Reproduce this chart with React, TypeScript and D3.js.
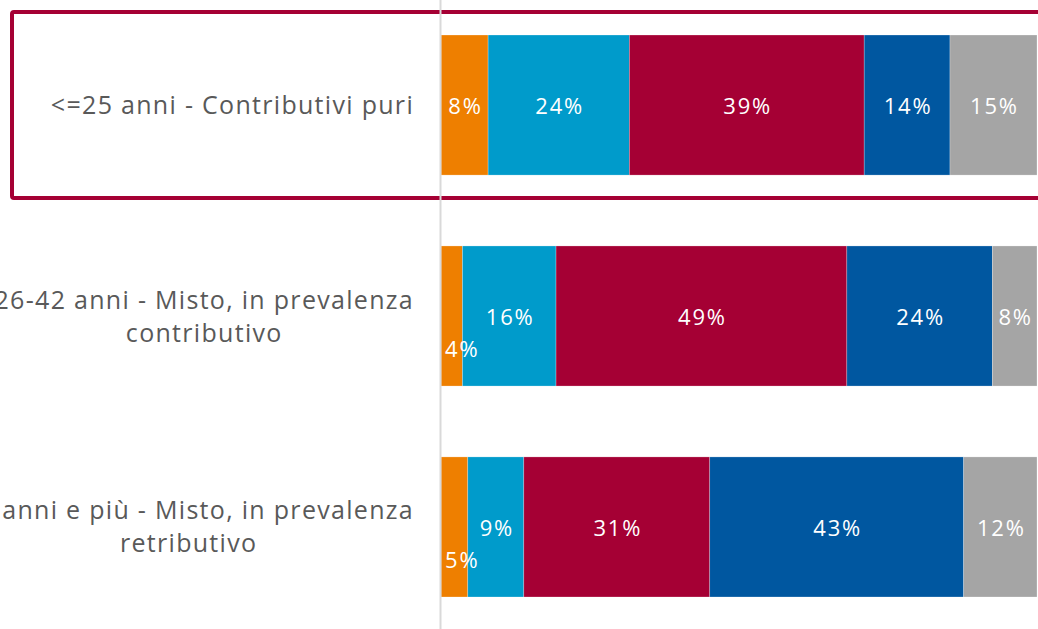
import React, { useEffect, useRef } from 'react';
import * as d3 from 'd3';

const categories = [
  '<=25 anni - Contributivi puri',
  '26-42 anni - Misto, in prevalenza contributivo',
  '43 anni e più - Misto, in prevalenza retributivo',
];
const labelLines = [
  ['<=25 anni - Contributivi puri'],
  ['26-42 anni - Misto, in prevalenza', 'contributivo'],
  ['43 anni e più - Misto, in prevalenza', 'retributivo'],
];
const seriesNames = ['s1', 's2', 's3', 's4', 's5'];
const seriesColors = ['#EE7F00', '#009BCB', '#A50034', '#0057A0', '#A5A5A5'];
const s1 = [7.9, 3.6, 4.5];
const s2 = [23.7, 15.7, 9.4];
const s3 = [39.4, 48.8, 31.2];
const s4 = [14.4, 24.4, 42.6];
const s5 = [14.6, 7.5, 12.3];
const seriesValues = [s1, s2, s3, s4, s5];

const W = 1038;
const H = 629;
const FONT = '"Open Sans", Lato, sans-serif';

const App = () => {
  const ref = useRef(null);

  useEffect(() => {
    document.body.style.margin = '0';
    const svg = d3.select(ref.current);
    svg.selectAll('*').remove();

    const x = d3.scaleLinear().domain([0, 100]).range([441, 1037]);
    const y = d3.scaleBand().domain(categories).range([35, 597]).paddingInner(0.336).paddingOuter(0);

    const rows = categories.map((c, i) => {
      const obj = { cat: c };
      seriesNames.forEach((s, j) => (obj[s] = seriesValues[j][i]));
      return obj;
    });
    const stacked = d3.stack().keys(seriesNames)(rows);

    // highlight box around first row
    const b0 = y(categories[0]);
    svg
      .append('rect')
      .attr('x', 12)
      .attr('y', b0 - 23)
      .attr('width', W + 10)
      .attr('height', y.bandwidth() + 46)
      .attr('rx', 2)
      .attr('fill', 'none')
      .attr('stroke', '#A50034')
      .attr('stroke-width', 4);

    svg
      .selectAll('.layer')
      .data(stacked)
      .enter()
      .append('g')
      .attr('fill', (d, i) => seriesColors[i])
      .selectAll('rect')
      .data((d) => d)
      .enter()
      .append('rect')
      .attr('x', (d) => x(d[0]))
      .attr('y', (d) => y(d.data.cat))
      .attr('width', (d) => x(d[1]) - x(d[0]))
      .attr('height', y.bandwidth())
      .attr('stroke', '#ffffff')
      .attr('stroke-opacity', 0.5)
      .attr('stroke-width', 0.5);

    // value labels, drawn after every bar so overflow stays visible
    svg
      .append('g')
      .selectAll('text')
      .data(stacked.flat())
      .enter()
      .append('text')
      .text((d) => `${Math.round(d[1] - d[0])}%`)
      .attr('font-family', FONT)
      .attr('font-size', 22)
      .attr('letter-spacing', 1.8)
      .attr('fill', '#ffffff')
      .attr('dominant-baseline', 'central')
      .each(function (d) {
        const t = d3.select(this);
        const segW = x(d[1]) - x(d[0]);
        const tw = this.getComputedTextLength();
        const cy = y(d.data.cat) + y.bandwidth() / 2;
        if (tw + 6 > segW) {
          t.attr('text-anchor', 'start').attr('x', x(d[0]) + 4).attr('y', cy + 32);
        } else {
          t.attr('text-anchor', 'middle').attr('x', (x(d[0]) + x(d[1])) / 2 + 1).attr('y', cy);
        }
      });

    // axis line
    svg
      .append('line')
      .attr('x1', 440.5)
      .attr('x2', 440.5)
      .attr('y1', 0)
      .attr('y2', H)
      .attr('stroke', '#d9d9d9')
      .attr('stroke-width', 2);

    // category labels: lines centred on each other, block right-aligned
    const labelRight = 414;
    const lineH = 33;
    categories.forEach((c, i) => {
      const lines = labelLines[i];
      const cy = y(c) + y.bandwidth() / 2 - 1;
      const g = svg.append('g');
      const texts = lines.map((ln, k) =>
        g
          .append('text')
          .text(ln)
          .attr('font-family', FONT)
          .attr('font-size', 25)
          .attr('letter-spacing', 1.3)
          .attr('fill', '#595959')
          .attr('text-anchor', 'middle')
          .attr('dominant-baseline', 'central')
          .attr('y', cy + (k - (lines.length - 1) / 2) * lineH)
      );
      const maxW = d3.max(texts, (t) => t.node().getComputedTextLength());
      texts.forEach((t) => t.attr('x', labelRight - maxW / 2));
    });
  }, []);

  return (
    <svg
      ref={ref}
      width={W}
      height={H}
      style={{ position: 'absolute', left: 0, top: 0, background: '#ffffff' }}
    />
  );
};

export default App;
